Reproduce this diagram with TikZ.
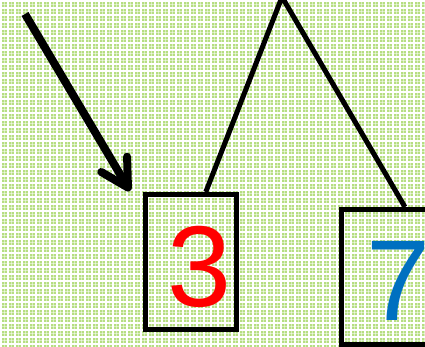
\documentclass[tikz,border=0pt]{standalone}
\usepackage{fontspec}
\setmainfont{Liberation Sans}
\usetikzlibrary{arrows.meta,calc}
\definecolor{bggreen}{RGB}{182,222,130}
\definecolor{digred}{RGB}{255,0,0}
\definecolor{digblue}{RGB}{0,112,192}
\tikzset{
  numbox/.style={draw=black,line width=5pt,minimum width=91pt,minimum height=135pt,inner sep=0pt},
  digit/.style={font=\fontsize{115}{115}\selectfont,inner sep=0pt,anchor=base west},
  link/.style={line width=5pt,line join=miter},
  pointer/.style={line width=8pt,-{Straight Barb[length=27pt,width=30pt,round]}}
}
\begin{document}
\begin{tikzpicture}[x=1pt,y=-1pt]
\useasboundingbox (0,0) rectangle (425,347);
\clip (0,0) rectangle (425,347);
% background plaid
\fill[bggreen] (0,0) rectangle (425,347);
\foreach \i in {0,7,...,430} {
  \draw[white,line width=1.5pt] (\i+1,0) -- (\i+1,347);
  \draw[white,line width=1pt,opacity=0.5] (\i+4.5,0) -- (\i+4.5,347);
}
\foreach \j in {0,7,...,350} {
  \draw[white,line width=1.5pt] (0,\j+1) -- (425,\j+1);
  \draw[white,line width=1pt,opacity=0.5] (0,\j+4.5) -- (425,\j+4.5);
}
% boxes
\node[numbox] (box3) at (191,262) {};
\node[numbox] (box7) at (387,277) {};
\node[digit,text=digred] (d3) at (167,306) {3};
\node[digit,text=digblue] (d7) at (366,320.5) {7};
% tree lines
\coordinate (apex) at (282,-3);
\draw[link] ($(box3.north west)!0.654!(box3.north east)$) -- (apex) -- ($(box7.north west)!0.687!(box7.north east)$);
% pointer arrow
\coordinate (pstart) at (25,14);
\coordinate (ptip) at (130,191);
\draw[pointer] (pstart) -- (ptip);
\end{tikzpicture}
\end{document}
